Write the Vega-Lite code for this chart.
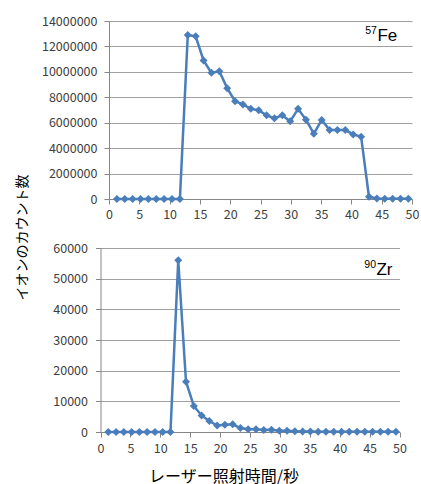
{
  "$schema": "https://vega.github.io/schema/vega-lite/v6.json",
  "background": "white",
  "padding": {"left": 15, "top": 15, "right": 0, "bottom": 0},
  "config": {
    "view": {"stroke": null},
    "font": "Noto Sans CJK JP",
    "axis": {
      "labelFont": "Noto Sans CJK JP",
      "labelFontSize": 12.5,
      "labelColor": "#404040",
      "domainColor": "#868686",
      "tickColor": "#868686",
      "gridColor": "#a0a0a0",
      "gridOpacity": 1,
      "domainWidth": 1,
      "tickWidth": 1,
      "gridWidth": 1,
      "labelOverlap": false,
      "labelFlush": false,
      "titleFont": "Noto Sans CJK JP",
      "titleFontWeight": "normal",
      "titleColor": "#000000"
    }
  },
  "datasets": {
    "ions": [
      {"t": 1.3, "fe": 0, "zr": 0},
      {"t": 2.6, "fe": 0, "zr": 0},
      {"t": 3.9, "fe": 0, "zr": 0},
      {"t": 5.2, "fe": 0, "zr": 0},
      {"t": 6.5, "fe": 0, "zr": 0},
      {"t": 7.8, "fe": 0, "zr": 0},
      {"t": 9.1, "fe": 0, "zr": 0},
      {"t": 10.4, "fe": 0, "zr": 0},
      {"t": 11.7, "fe": 0, "zr": 0},
      {"t": 13.0, "fe": 12900000, "zr": 56000},
      {"t": 14.3, "fe": 12800000, "zr": 16400},
      {"t": 15.6, "fe": 10900000, "zr": 8500},
      {"t": 16.9, "fe": 9920000, "zr": 5400},
      {"t": 18.2, "fe": 10050000, "zr": 3600},
      {"t": 19.5, "fe": 8720000, "zr": 2100},
      {"t": 20.8, "fe": 7690000, "zr": 2400},
      {"t": 22.1, "fe": 7440000, "zr": 2500},
      {"t": 23.4, "fe": 7090000, "zr": 1300},
      {"t": 24.7, "fe": 6980000, "zr": 900},
      {"t": 26.0, "fe": 6580000, "zr": 900},
      {"t": 27.3, "fe": 6360000, "zr": 650},
      {"t": 28.6, "fe": 6580000, "zr": 700},
      {"t": 29.9, "fe": 6110000, "zr": 400},
      {"t": 31.2, "fe": 7090000, "zr": 400},
      {"t": 32.5, "fe": 6240000, "zr": 250},
      {"t": 33.8, "fe": 5140000, "zr": 150},
      {"t": 35.1, "fe": 6220000, "zr": 150},
      {"t": 36.4, "fe": 5430000, "zr": 120},
      {"t": 37.7, "fe": 5420000, "zr": 100},
      {"t": 39.0, "fe": 5420000, "zr": 100},
      {"t": 40.3, "fe": 5080000, "zr": 60},
      {"t": 41.6, "fe": 4900000, "zr": 60},
      {"t": 42.9, "fe": 170000, "zr": 50},
      {"t": 44.2, "fe": 40000, "zr": 50},
      {"t": 45.5, "fe": 10000, "zr": 50},
      {"t": 46.8, "fe": 10000, "zr": 50},
      {"t": 48.1, "fe": 10000, "zr": 50},
      {"t": 49.4, "fe": 10000, "zr": 50}
    ]
  },
  "align": "none",
  "bounds": "full",
  "spacing": -58,
  "vconcat": [
    {
      "width": 303,
      "height": 178,
      "layer": [
        {
          "data": {"name": "ions"},
          "mark": {"type": "line", "color": "#4a7ebb", "strokeWidth": 2.5, "point": {"shape": "diamond", "size": 64, "filled": true, "color": "#4a7ebb", "opacity": 1}},
          "encoding": {
            "x": {"field": "t", "type": "quantitative", "scale": {"domain": [0, 50], "nice": false},
              "axis": {"values": [0, 5, 10, 15, 20, 25, 30, 35, 40, 45, 50], "labelOverlap": false, "grid": false, "title": null, "tickSize": 5, "labelPadding": 4}},
            "y": {"field": "fe", "type": "quantitative", "scale": {"domain": [0, 14000000], "nice": false},
              "axis": {"values": [0, 2000000, 4000000, 6000000, 8000000, 10000000, 12000000, 14000000], "labelOverlap": false, "format": "d", "grid": true, "tickSize": 5, "labelPadding": 7,
                "title": "イオンのカウント数", "titleFontSize": 14, "titleX": -87, "titleY": 216, "titleAngle": 270, "titleAlign": "center", "titleBaseline": "middle"}}
          }
        },
        {
          "data": {"values": [{"mass": "57", "element": "Fe"}]},
          "mark": {"type": "text", "font": "Liberation Sans", "fontSize": 17, "align": "left", "baseline": "alphabetic", "color": "#000000"},
          "encoding": {
            "x": {"datum": 44.3, "type": "quantitative", "scale": {"domain": [0, 50], "nice": false},
              "axis": {"values": [0, 5, 10, 15, 20, 25, 30, 35, 40, 45, 50], "labelOverlap": false, "grid": false, "title": null, "tickSize": 5, "labelPadding": 4}},
            "y": {"datum": 12400000, "type": "quantitative", "scale": {"domain": [0, 14000000], "nice": false},
              "axis": {"values": [0, 2000000, 4000000, 6000000, 8000000, 10000000, 12000000, 14000000], "labelOverlap": false, "format": "d", "grid": true, "tickSize": 5, "labelPadding": 7,
                "title": "イオンのカウント数", "titleFontSize": 14, "titleX": -87, "titleY": 216, "titleAngle": 270, "titleAlign": "center", "titleBaseline": "middle"}},
            "text": {"field": "element"}
          }
        },
        {
          "data": {"values": [{"mass": "57", "element": "Fe"}]},
          "mark": {"type": "text", "font": "Liberation Sans", "fontSize": 10.5, "align": "right", "baseline": "alphabetic", "color": "#000000", "dx": -0.5},
          "encoding": {
            "x": {"datum": 44.3, "type": "quantitative", "scale": {"domain": [0, 50], "nice": false},
              "axis": {"values": [0, 5, 10, 15, 20, 25, 30, 35, 40, 45, 50], "labelOverlap": false, "grid": false, "title": null, "tickSize": 5, "labelPadding": 4}},
            "y": {"datum": 12940000, "type": "quantitative", "scale": {"domain": [0, 14000000], "nice": false},
              "axis": {"values": [0, 2000000, 4000000, 6000000, 8000000, 10000000, 12000000, 14000000], "labelOverlap": false, "format": "d", "grid": true, "tickSize": 5, "labelPadding": 7,
                "title": "イオンのカウント数", "titleFontSize": 14, "titleX": -87, "titleY": 216, "titleAngle": 270, "titleAlign": "center", "titleBaseline": "middle"}},
            "text": {"field": "mass"}
          }
        }
      ]
    },
    {
      "width": 299,
      "height": 184,
      "layer": [
        {
          "data": {"name": "ions"},
          "mark": {"type": "line", "color": "#4a7ebb", "strokeWidth": 2.5, "point": {"shape": "diamond", "size": 64, "filled": true, "color": "#4a7ebb", "opacity": 1}},
          "encoding": {
            "x": {"field": "t", "type": "quantitative", "scale": {"domain": [0, 50], "nice": false, "range": [-8.5, 290.5]},
              "axis": {"values": [0, 5, 10, 15, 20, 25, 30, 35, 40, 45, 50], "labelOverlap": false, "grid": false, "tickSize": 5, "labelPadding": 5,
                "title": "レーザー照射時間/秒", "titleFontSize": 16, "titleX": 114.5, "titleY": 36, "titleAlign": "center", "titleBaseline": "top"}},
            "y": {"field": "zr", "type": "quantitative", "scale": {"domain": [0, 60000], "nice": false},
              "axis": {"values": [0, 10000, 20000, 30000, 40000, 50000, 60000], "labelOverlap": false, "format": "d", "grid": true, "tickSize": 5, "labelPadding": 8, "offset": 8.5, "title": null}}
          }
        },
        {
          "data": {"values": [{"mass": "90", "element": "Zr"}]},
          "mark": {"type": "text", "font": "Liberation Sans", "fontSize": 17, "align": "left", "baseline": "alphabetic", "color": "#000000"},
          "encoding": {
            "x": {"datum": 46.15, "type": "quantitative", "scale": {"domain": [0, 50], "nice": false, "range": [-8.5, 290.5]},
              "axis": {"values": [0, 5, 10, 15, 20, 25, 30, 35, 40, 45, 50], "labelOverlap": false, "grid": false, "tickSize": 5, "labelPadding": 5,
                "title": "レーザー照射時間/秒", "titleFontSize": 16, "titleX": 114.5, "titleY": 36, "titleAlign": "center", "titleBaseline": "top"}},
            "y": {"datum": 51300, "type": "quantitative", "scale": {"domain": [0, 60000], "nice": false},
              "axis": {"values": [0, 10000, 20000, 30000, 40000, 50000, 60000], "labelOverlap": false, "format": "d", "grid": true, "tickSize": 5, "labelPadding": 8, "offset": 8.5, "title": null}},
            "text": {"field": "element"}
          }
        },
        {
          "data": {"values": [{"mass": "90", "element": "Zr"}]},
          "mark": {"type": "text", "font": "Liberation Sans", "fontSize": 10.5, "align": "right", "baseline": "alphabetic", "color": "#000000", "dx": -0.5},
          "encoding": {
            "x": {"datum": 46.15, "type": "quantitative", "scale": {"domain": [0, 50], "nice": false, "range": [-8.5, 290.5]},
              "axis": {"values": [0, 5, 10, 15, 20, 25, 30, 35, 40, 45, 50], "labelOverlap": false, "grid": false, "tickSize": 5, "labelPadding": 5,
                "title": "レーザー照射時間/秒", "titleFontSize": 16, "titleX": 114.5, "titleY": 36, "titleAlign": "center", "titleBaseline": "top"}},
            "y": {"datum": 53600, "type": "quantitative", "scale": {"domain": [0, 60000], "nice": false},
              "axis": {"values": [0, 10000, 20000, 30000, 40000, 50000, 60000], "labelOverlap": false, "format": "d", "grid": true, "tickSize": 5, "labelPadding": 8, "offset": 8.5, "title": null}},
            "text": {"field": "mass"}
          }
        }
      ]
    }
  ]
}
